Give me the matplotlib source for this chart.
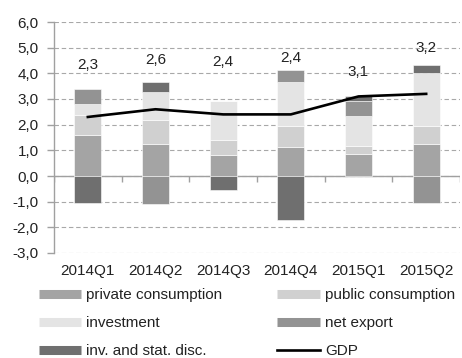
import matplotlib

matplotlib.use("Agg")
import matplotlib.pyplot as plt
import numpy as np
from matplotlib.lines import Line2D
from matplotlib.ticker import FuncFormatter

plt.rcParams["font.family"] = ["Liberation Sans", "DejaVu Sans"]
plt.rcParams["font.size"] = 11

quarters = ["2014Q1", "2014Q2", "2014Q3", "2014Q4", "2015Q1", "2015Q2"]

# contributions to GDP growth, percentage points
private = [1.60, 1.24, 0.82, 1.14, 0.86, 1.24]
public = [0.78, 0.95, 0.59, 0.81, 0.29, 0.71]
investment = [0.43, 1.07, 1.52, 1.71, 1.20, 2.06]
net_export = [0.57, -1.10, 0.0, 0.48, 0.56, -1.07]
inventories = [-1.07, 0.41, -0.55, -1.72, 0.20, 0.30]
gdp = [2.3, 2.6, 2.4, 2.4, 3.1, 3.2]

# vertical placement of the GDP value labels
label_y = [4.34, 4.50, 4.43, 4.60, 4.07, 4.99]

components = [
    ("private consumption", private, "#a4a4a4"),
    ("public consumption", public, "#d0d0d0"),
    ("investment", investment, "#e4e4e4"),
    ("net export", net_export, "#939393"),
    ("inv. and stat. disc.", inventories, "#6f6f6f"),
]

fig = plt.figure(figsize=(4.62, 3.58), dpi=100)
ax = fig.add_axes([54 / 462, 1 - 253 / 358, 406 / 462, 231 / 358])

x = np.arange(len(quarters))
pos_bottom = np.zeros(len(quarters))
neg_bottom = np.zeros(len(quarters))
for name, vals, color in components:
    vals = np.array(vals)
    bottom = np.where(vals >= 0, pos_bottom, neg_bottom)
    ax.bar(x, vals, width=0.4, bottom=bottom, color=color,
           edgecolor="white", linewidth=0.4, zorder=3)
    pos_bottom += np.clip(vals, 0, None)
    neg_bottom += np.clip(vals, None, 0)

ax.plot(x, gdp, color="black", linewidth=1.9, zorder=4)

for xi, (v, ly) in enumerate(zip(gdp, label_y)):
    ax.text(xi, ly, f"{v:.1f}".replace(".", ","), ha="center", va="center",
            fontsize=11, color="#222222", zorder=5)

ax.set_xlim(-0.5, len(quarters) - 0.5)
ax.set_ylim(-3, 6)
ax.set_yticks(np.arange(-3, 7, 1))
ax.yaxis.set_major_formatter(FuncFormatter(lambda v, p: f"{v:.1f}".replace(".", ",")))
ax.yaxis.grid(True, linestyle=(0, (4, 2.5)), color="#a8a8a8", linewidth=0.8)
ax.set_axisbelow(True)

# zero line with category separators
ax.axhline(0, color="#a0a0a0", linewidth=1.0, zorder=2)
ax.vlines(np.arange(-0.5, len(quarters)), -0.23, 0, color="#a0a0a0",
          linewidth=1.0, zorder=2)

ax.set_xticks(x)
ax.set_xticklabels(quarters)
ax.tick_params(axis="x", length=0, pad=8, labelsize=11, colors="#222222")
ax.tick_params(axis="y", length=5, width=1.0, color="#a0a0a0", pad=6,
               labelsize=11, labelcolor="#222222")

for side in ["top", "right", "bottom"]:
    ax.spines[side].set_visible(False)
ax.spines["left"].set_color("#a0a0a0")
ax.spines["left"].set_linewidth(1.0)

handles = {name: Line2D([], [], color=color, linewidth=6.5, solid_capstyle="butt")
           for name, _, color in components}
handles["GDP"] = Line2D([], [], color="black", linewidth=1.9)
order = ["private consumption", "investment", "inv. and stat. disc.",
         "public consumption", "net export", "GDP"]
fig.legend([handles[n] for n in order], order, ncol=2, frameon=False,
           loc="upper left", bbox_to_anchor=(39 / 462, 1 - 288 / 358),
           handlelength=2.75, handletextpad=0.35, columnspacing=3.6,
           labelspacing=0.92, borderaxespad=0, borderpad=0, fontsize=11,
           labelcolor="#222222")

fig.savefig("out.png", dpi=100)
